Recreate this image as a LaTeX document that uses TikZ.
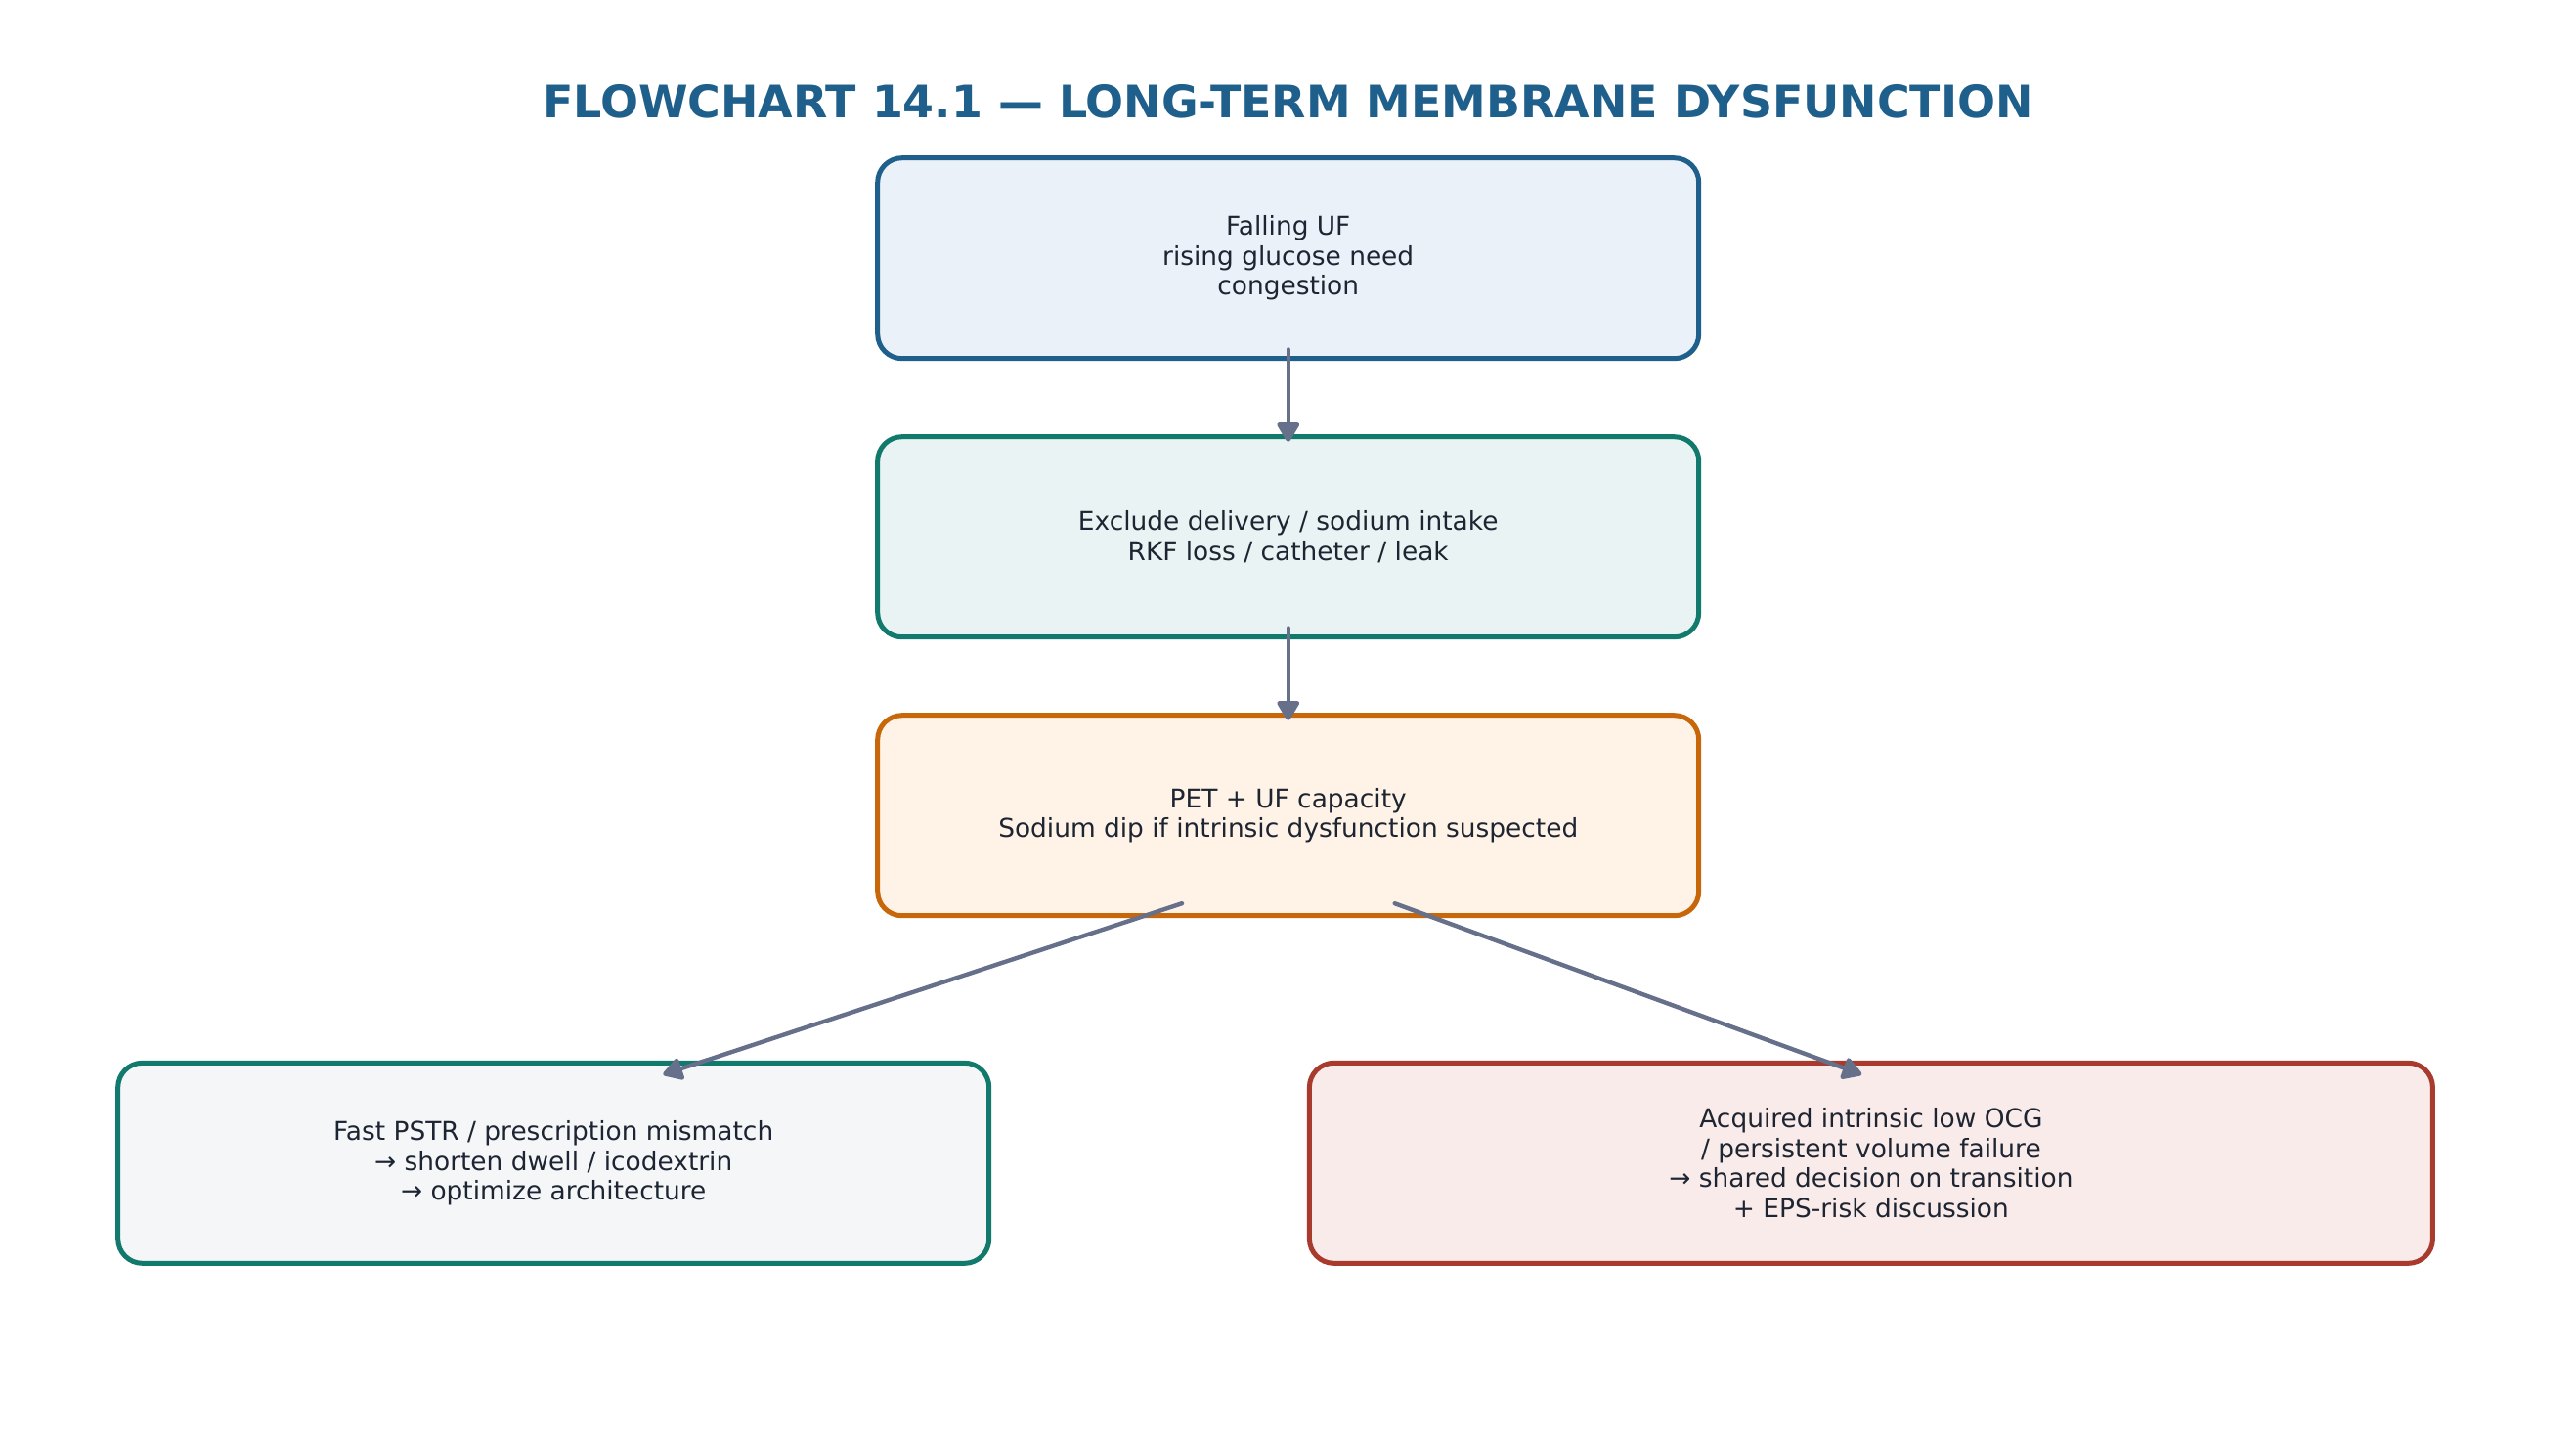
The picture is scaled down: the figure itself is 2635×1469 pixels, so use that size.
\documentclass[tikz,border=0pt]{standalone}
\usepackage{fontspec}
\setmainfont{DejaVu Sans}
\usetikzlibrary{arrows.meta}
\definecolor{titleblue}{HTML}{1F5F8B}
\definecolor{txt}{HTML}{1E2532}
\definecolor{arr}{HTML}{66708A}
\definecolor{bblue}{HTML}{1F5F8B}\definecolor{fblue}{HTML}{EAF1F8}
\definecolor{bteal}{HTML}{117A6C}\definecolor{fteal}{HTML}{E9F3F3}
\definecolor{borange}{HTML}{C8660A}\definecolor{forange}{HTML}{FEF3E6}
\definecolor{fgray}{HTML}{F4F6F8}
\definecolor{bred}{HTML}{A93A2E}\definecolor{fred}{HTML}{F9EBE9}
\tikzset{
  box/.style={rectangle, rounded corners=12.5pt, line width=2.5pt, align=center,
    text=txt, font=\fontsize{13.2pt}{15.25pt}\selectfont, inner sep=0pt},
  conn/.style={draw=arr, line width=2.2pt, line cap=round,
    -{Triangle[width=12.5pt,length=11pt,round]}},
}
\begin{document}
\begin{tikzpicture}[x=0.5pt,y=-0.5pt]
\useasboundingbox (0,0) rectangle (2635,1469);
\node[anchor=base, text=titleblue, font=\fontsize{22.95pt}{28pt}\selectfont\bfseries] (title) at (1317.5,120)
  {FLOWCHART 14.1 — LONG-TERM MEMBRANE DYSFUNCTION};
\node[box, draw=bblue, fill=fblue, minimum width=420pt, minimum height=102.5pt] (b1) at (1317.7,264.2)
  {Falling UF\\rising glucose need\\congestion};
\node[box, draw=bteal, fill=fteal, minimum width=420pt, minimum height=102.5pt] (b2) at (1317.7,549.2)
  {Exclude delivery / sodium intake\\RKF loss / catheter / leak};
\node[box, draw=borange, fill=forange, minimum width=420pt, minimum height=102.5pt] (b3) at (1317.7,834.2)
  {PET + UF capacity\\Sodium dip if intrinsic dysfunction suspected};
\node[box, draw=bteal, fill=fgray, minimum width=445.5pt, minimum height=102.5pt] (b4) at (566.2,1189.8)
  {Fast PSTR / prescription mismatch\\→ shorten dwell / icodextrin\\→ optimize architecture};
\node[box, draw=bred, fill=fred, minimum width=574.5pt, minimum height=102.5pt] (b5) at (1913.9,1189.8)
  {Acquired intrinsic low OCG\\/ persistent volume failure\\→ shared decision on transition\\+ EPS-risk discussion};
\draw[conn] ([yshift=5.85pt]b1.south) -- ([yshift=-3.8pt]b2.north);
\draw[conn] ([yshift=5.85pt]b2.south) -- ([yshift=-3.8pt]b3.north);
\draw[conn] ([xshift=-54.35pt,yshift=7.5pt]b3.south) -- ([xshift=56.05pt,yshift=-7.2pt]b4.north);
\draw[conn] ([xshift=54.5pt,yshift=7.5pt]b3.south) -- ([xshift=-4.8pt,yshift=-7.2pt]b5.north);
\end{tikzpicture}
\end{document}
